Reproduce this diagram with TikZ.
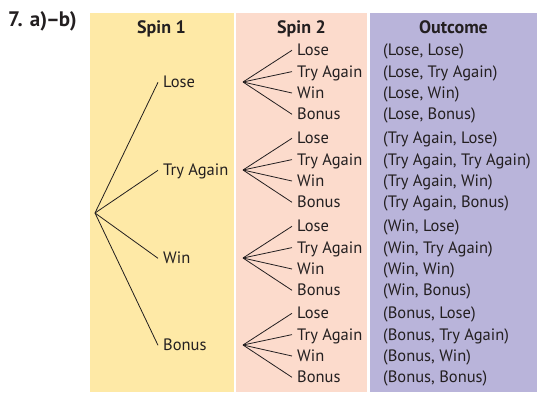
\documentclass[tikz,border=0pt]{standalone}
\usepackage{fontspec}
\setmainfont{PT Sans}
\definecolor{colY}{RGB}{254,233,166}
\definecolor{colP}{RGB}{252,219,204}
\definecolor{colV}{RGB}{185,180,218}
\definecolor{ink}{RGB}{35,31,32}
\begin{document}
\begin{tikzpicture}[x=1pt,y=-1pt,
  lbl/.style={font=\fontsize{16.5}{19}\selectfont, text=ink, inner sep=0pt, anchor=base west},
  hdr/.style={font=\bfseries\fontsize{18}{20}\selectfont, text=ink, inner sep=0pt, anchor=base},
  br/.style={draw=ink, line width=0.8pt}]
\useasboundingbox (0,0) rectangle (537,392);
\fill[colY] (90,13) rectangle (234,392);
\fill[colP] (236,13) rectangle (367,392);
\fill[colV] (370,13) rectangle (537,392);
\node[font=\bfseries\fontsize{21}{22}\selectfont, text=ink, inner sep=0pt, anchor=base west] (title) at (8,26.5) {7. a)\kern-0.05em--\kern-0.05em b)};
\node[hdr] (h1) at (161.5,33) {Spin 1};
\node[hdr] (h2) at (301.5,33) {Spin 2};
\node[hdr] (h3) at (453.5,33) {Outcome};
\coordinate (root) at (95,213);
\foreach \g/\c/\a in {1/82/Lose, 2/170/Try Again, 3/258/Win, 4/345/Bonus} {
  \pgfmathsetmacro{\yb}{\c+5.8}
  \node[lbl] (s1-\g) at (163,\yb) {\a};
  \draw[br] (root) -- ([shift={(-5pt,5.5pt)}]s1-\g.base west);
  \coordinate (r2-\g) at (243,\c);
  \foreach \k/\b/\d in {1/Lose/-32, 2/Try Again/-10.7, 3/Win/10.7, 4/Bonus/32} {
    \pgfmathsetmacro{\yy}{\c+\d+5.8}
    \node[lbl] (s2-\g-\k) at (297,\yy) {\b};
    \node[lbl] (o-\g-\k) at (383,\yy) {(\a, \b)};
    \draw[br] (r2-\g) -- ([shift={(-5pt,5.5pt)}]s2-\g-\k.base west);
  }
}
\end{tikzpicture}
\end{document}
